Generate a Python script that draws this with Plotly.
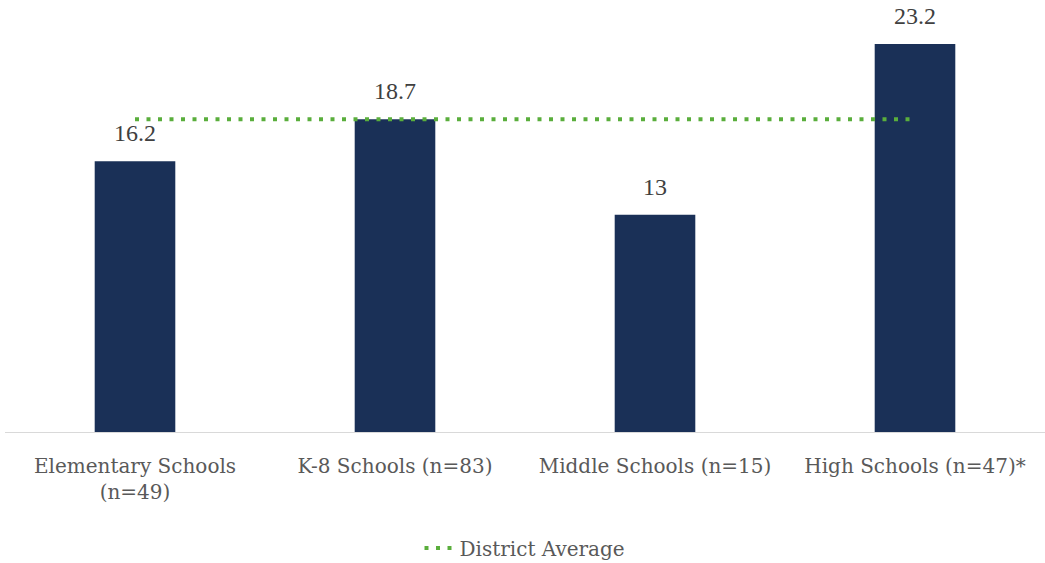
import plotly.graph_objects as go

categories = ["Elementary Schools<br>(n=49)", "K-8 Schools (n=83)", "Middle Schools (n=15)", "High Schools (n=47)*"]
values = [16.2, 18.7, 13, 23.2]
value_labels = ["16.2", "18.7", "13", "23.2"]
district_average = [18.7, 18.7, 18.7, 18.7]

fig = go.Figure()
fig.add_trace(go.Bar(
    x=categories, y=values,
    marker=dict(color="#1a3057", line=dict(width=0)), width=0.31, showlegend=False,
    hoverinfo="x+y",
))
fig.add_trace(go.Scatter(
    x=categories, y=district_average, mode="lines", name="District Average",
    line=dict(color="#5aae3c", width=4, dash="4px,7.5px"),
))
for c, v, t in zip(categories, values, value_labels):
    fig.add_annotation(x=c, y=v, text=t, showarrow=False, yanchor="middle", yshift=28,
                       font=dict(family="Liberation Serif", size=24, color="#404040"))

fig.update_layout(
    width=1045, height=563,
    margin=dict(l=5, r=0, t=14, b=131, autoexpand=False),
    paper_bgcolor="white", plot_bgcolor="white",
    font=dict(family="DejaVu Serif", color="#595959", size=20),
    yaxis=dict(range=[0, 25], visible=False),
    xaxis=dict(showline=True, linecolor="#d9d9d9", linewidth=1, ticks="",
               tickfont=dict(size=20, color="#595959"), ticklabelstandoff=16, automargin=False),
    legend=dict(orientation="h", x=0.5, xanchor="center", y=-0.2775, yanchor="middle",
                font=dict(size=20, color="#595959")),
)
fig.write_html("out.html", config={"displayModeBar": False},
               post_script="document.body.style.margin='0';")
